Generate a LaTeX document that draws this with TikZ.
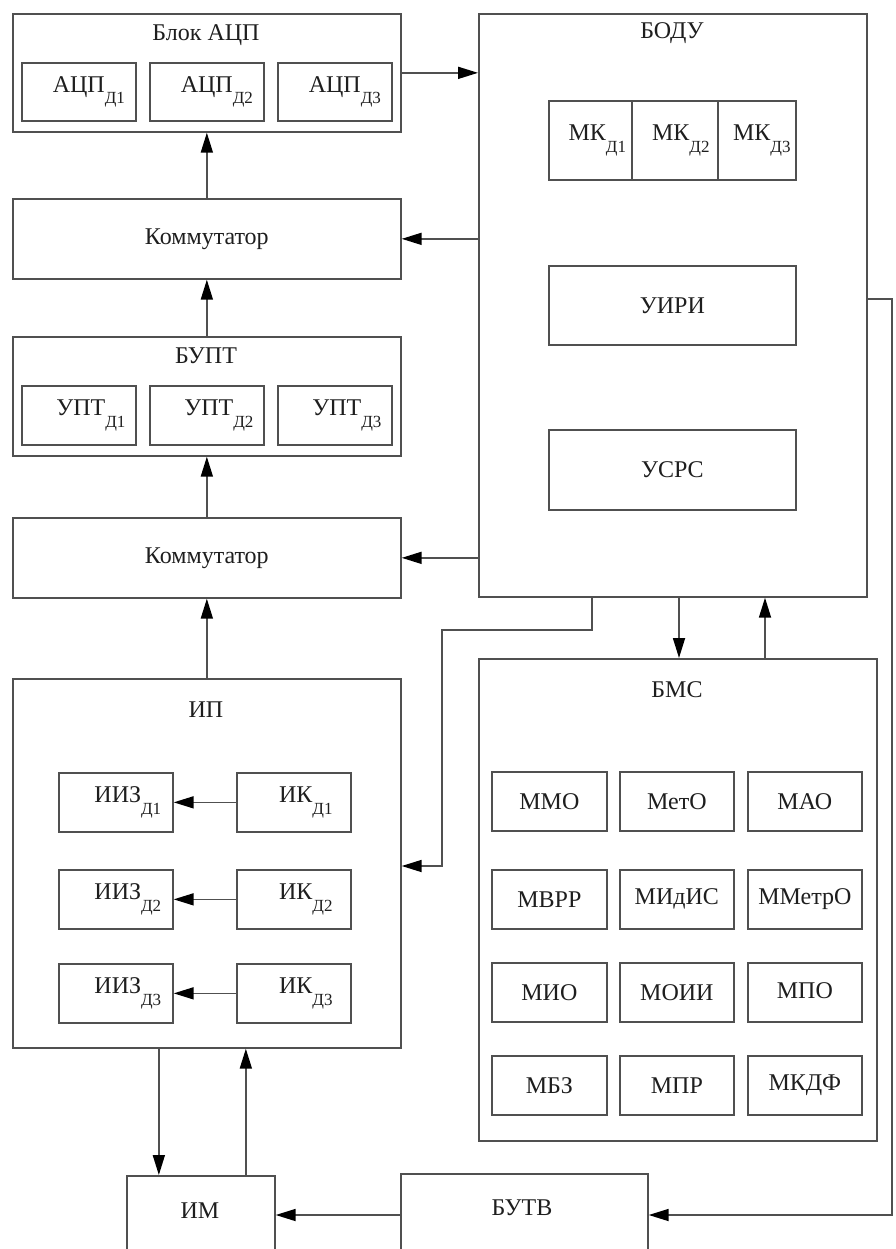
\documentclass[tikz,border=0pt]{standalone}
\usepackage{fontspec}
\setmainfont{Liberation Serif}
\usetikzlibrary{arrows.meta}
\definecolor{linec}{HTML}{505050}
\definecolor{textc}{HTML}{1E1E1E}
% lowered index after a block name
\newcommand{\dind}[1]{\raisebox{-0.48em}{\fontsize{17}{17}\selectfont #1}}
\tikzset{
  blk/.style={draw=linec, line width=1.7pt, anchor=north west, inner sep=0pt,
              font=\fontsize{24}{28}\selectfont, text=textc},
  lbl/.style={inner sep=0pt, font=\fontsize{24}{28}\selectfont, text=textc},
  wire/.style={draw=linec, line width=1.7pt},
  arr/.style={wire, -{Triangle[length=20pt,width=12pt,black]}}
}
\begin{document}
\begin{tikzpicture}[x=1pt,y=-1pt]
\clip (0,0) rectangle (895,1249);
\fill[white] (0,0) rectangle (895,1249);

% ---- ADC block
\node[blk, minimum width=388pt, minimum height=118pt] (adc) at (12,13) {};
\node[lbl] (adct) at (206,35) {Блок АЦП};
\node[blk, minimum width=114pt, minimum height=58pt] (adc1) at (21,62) {\hspace*{20pt}АЦП\dind{Д1}};
\node[blk, minimum width=114pt, minimum height=58pt] (adc2) at (149,62) {\hspace*{20pt}АЦП\dind{Д2}};
\node[blk, minimum width=114pt, minimum height=58pt] (adc3) at (277,62) {\hspace*{20pt}АЦП\dind{Д3}};

% ---- switches and amplifiers
\node[blk, minimum width=388pt, minimum height=80pt] (kom1) at (12,198) {Коммутатор};
\node[blk, minimum width=388pt, minimum height=119pt] (bupt) at (12,336) {};
\node[lbl] (bupts) at (206,356) {БУПТ};
\node[blk, minimum width=114pt, minimum height=59pt] (upt1) at (21,385) {\hspace*{24pt}УПТ\dind{Д1}};
\node[blk, minimum width=114pt, minimum height=59pt] (upt2) at (149,385) {\hspace*{24pt}УПТ\dind{Д2}};
\node[blk, minimum width=114pt, minimum height=59pt] (upt3) at (277,385) {\hspace*{24pt}УПТ\dind{Д3}};
\node[blk, minimum width=388pt, minimum height=80pt] (kom2) at (12,517) {Коммутатор};

% ---- ИП
\node[blk, minimum width=388pt, minimum height=369pt] (ip) at (12,678) {};
\node[lbl] (ipt) at (206,710) {ИП};
\node[blk, minimum width=114pt, minimum height=59pt] (iiz1) at (58,772) {\hspace*{24pt}ИИЗ\dind{Д1}};
\node[blk, minimum width=114pt, minimum height=59pt] (iiz2) at (58,869) {\hspace*{24pt}ИИЗ\dind{Д2}};
\node[blk, minimum width=114pt, minimum height=59pt] (iiz3) at (58,963) {\hspace*{24pt}ИИЗ\dind{Д3}};
\node[blk, minimum width=114pt, minimum height=59pt] (ik1) at (236,772) {\hspace*{24pt}ИК\dind{Д1}};
\node[blk, minimum width=114pt, minimum height=59pt] (ik2) at (236,869) {\hspace*{24pt}ИК\dind{Д2}};
\node[blk, minimum width=114pt, minimum height=59pt] (ik3) at (236,963) {\hspace*{24pt}ИК\dind{Д3}};

% ---- БОДУ
\node[blk, minimum width=388pt, minimum height=583pt] (bodu) at (478,13) {};
\node[lbl] (bodut) at (672,33) {БОДУ};
\node[blk, minimum width=83pt, minimum height=79pt] (mk1) at (548,100) {\hspace*{14pt}МК\dind{Д1}};
\node[blk, minimum width=86pt, minimum height=79pt] (mk2) at (631,100) {\hspace*{12pt}МК\dind{Д2}};
\node[blk, minimum width=78pt, minimum height=79pt] (mk3) at (717,100) {\hspace*{10pt}МК\dind{Д3}};
\node[blk, minimum width=247pt, minimum height=79pt] (uiri) at (548,265) {УИРИ};
\node[blk, minimum width=247pt, minimum height=80pt] (usrs) at (548,429) {УСРС};

% ---- БМС
\node[blk, minimum width=398pt, minimum height=482pt] (bms) at (478,658) {};
\node[lbl] (bmst) at (677,690) {БМС};
\node[blk, minimum width=115pt, minimum height=59pt] (m11) at (491,771) {ММО};
\node[blk, minimum width=114pt, minimum height=59pt] (m12) at (619,771) {МетО};
\node[blk, minimum width=114pt, minimum height=59pt] (m13) at (747,771) {МАО};
\node[blk, minimum width=115pt, minimum height=59pt] (m21) at (491,869) {МВРР};
\node[blk, minimum width=114pt, minimum height=59pt] (m22) at (619,869) {МИдИС};
\node[blk, minimum width=114pt, minimum height=59pt] (m23) at (747,869) {ММетрО};
\node[blk, minimum width=115pt, minimum height=59pt] (m31) at (491,962) {МИО};
\node[blk, minimum width=114pt, minimum height=59pt] (m32) at (619,962) {МОИИ};
\node[blk, minimum width=114pt, minimum height=59pt] (m33) at (747,962) {\raisebox{4pt}{МПО}};
\node[blk, minimum width=115pt, minimum height=59pt] (m41) at (491,1055) {МБЗ};
\node[blk, minimum width=114pt, minimum height=59pt] (m42) at (619,1055) {МПР};
\node[blk, minimum width=114pt, minimum height=59pt] (m43) at (747,1055) {МКДФ};

% ---- ИМ and БУТВ (run past the lower edge)
\node[blk, minimum width=148pt, minimum height=100pt] (im) at (126,1175) {};
\node[lbl] (imt) at (200,1211) {ИМ};
\node[blk, minimum width=247pt, minimum height=100pt] (butv) at (400,1173) {};
\node[lbl] (butvt) at (522,1208) {БУТВ};

% ---- wiring points
\coordinate (p1) at (592,630);
\coordinate (p2) at (442,630);
\coordinate (p3) at (442,866);
\coordinate (q1) at (765,0);
\coordinate (r1) at (892,299);
\coordinate (r2) at (892,1215);

% ---- connectors
\draw[arr] (adc.east) -- (bodu.west |- adc.east);
\draw[arr] (bodu.west |- kom1.east) -- (kom1.east);
\draw[arr] (bodu.west |- kom2.east) -- (kom2.east);
\draw[arr] (kom1.north) -- (adc.south);
\draw[arr] (bupt.north) -- (kom1.south);
\draw[arr] (kom2.north) -- (bupt.south);
\draw[arr] (ip.north) -- (kom2.south);
\draw[arr] (ik1.west) -- (iiz1.east);
\draw[arr] (ik2.west) -- (iiz2.east);
\draw[arr] (ik3.west) -- (iiz3.east);
\draw[arr] (bodu.south -| p1) -- (p1) -- (p2) -- (p3) -- (ip.east |- p3);
\draw[arr] (bodu.south -| 679,0) -- (bms.north -| 679,0);
\draw[arr] (bms.north -| q1) -- (bodu.south -| q1);
\draw[arr] ([xshift=-42pt]ip.south -| im.north) -- ([xshift=-42pt]im.north);
\draw[arr] ([xshift=45pt]im.north) -- ([xshift=45pt]ip.south -| im.north);
\draw[arr] (butv.west |- r2) -- (im.east |- r2);
\draw[arr] (bodu.east |- r1) -- (r1) -- (r2) -- (butv.east |- r2);
\end{tikzpicture}
\end{document}
